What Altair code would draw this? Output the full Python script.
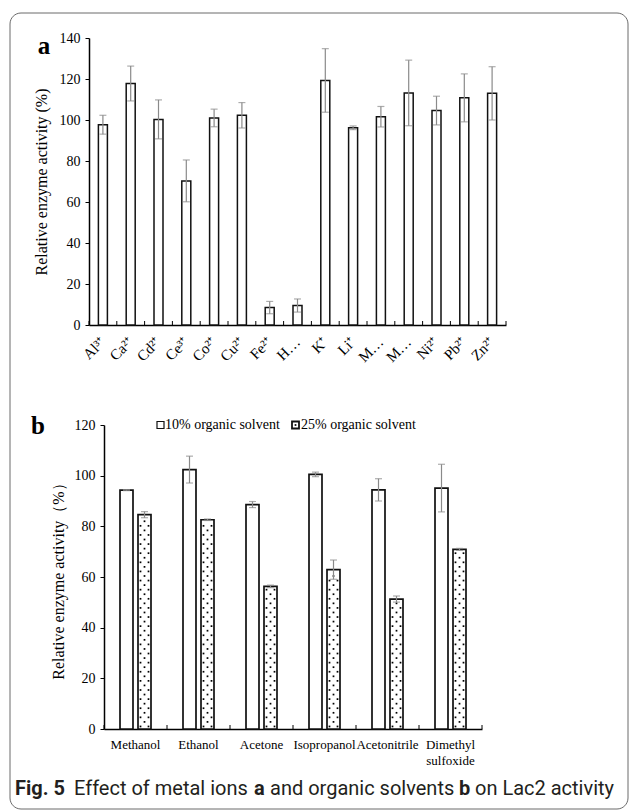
import altair as alt
import pandas as pd

# ---------------- data ----------------
metals = ["Al³⁺", "Ca²⁺", "Cd²⁺", "Ce³⁺", "Co²⁺", "Cu²⁺", "Fe²⁺", "H…", "K⁺",
          "Li⁺", "M…", "M…\u200b", "Ni²⁺", "Pb²⁺", "Zn²⁺"]
metal_activity = [97.7, 117.8, 100.3, 70.3, 101.0, 102.3, 8.5, 9.5, 119.3,
                  96.2, 101.6, 113.2, 104.6, 110.8, 113.0]
metal_err = [4.6, 8.5, 9.5, 10.2, 4.3, 6.2, 3.0, 3.2, 15.5,
             0.9, 5.0, 16.0, 7.0, 11.7, 13.0]

solvents = ["Methanol", "Ethanol", "Acetone", "Isopropanol", "Acetonitrile",
            "Dimethyl sulfoxide"]
series = ["10% organic solvent", "25% organic solvent"]
act10 = [94.3, 102.4, 88.6, 100.5, 94.4, 95.1]
err10 = [0.2, 5.3, 1.2, 0.9, 4.4, 9.4]
act25 = [84.6, 82.6, 56.3, 62.9, 51.3, 70.9]
err25 = [1.2, 0.3, 0.5, 3.8, 1.2, 0.4]

# ---------------- styling ----------------
SERIF = "Liberation Serif"
SANS = "Roboto"
ERR = "#8a8a8a"

W1, H1 = 417, 287      # top panel plot area
W2, H2 = 393, 304      # bottom panel plot area (x range starts at 15)

# ---------------- top panel ----------------
top_df = pd.DataFrame({"metal": metals, "act": metal_activity, "err": metal_err})
top_df["lo"] = top_df["act"] - top_df["err"]
top_df["hi"] = top_df["act"] + top_df["err"]


def xtop(**kw):
    return alt.X("metal:N", sort=metals,
                 scale=alt.Scale(paddingInner=0, paddingOuter=0),
                 axis=alt.Axis(title=None, labelAngle=-45, labelAlign="right",
                               labelBaseline="middle", labelPadding=14, ticks=False,
                               labelFont=SERIF, labelFontSize=15, labelColor="black",
                               domainColor="black", domainWidth=1.5),
                 **kw)


def ytop(field):
    return alt.Y(f"{field}:Q", scale=alt.Scale(domain=[0, 140], nice=False),
                 axis=alt.Axis(values=list(range(0, 141, 20)),
                               title="Relative enzyme activity (%)",
                               titleFont=SERIF, titleFontSize=16, titleFontWeight="normal",
                               titleColor="black", titleX=-48, titleBaseline="middle",
                               labelFont=SERIF, labelFontSize=14, labelColor="black",
                               labelPadding=5, tickSize=4, tickColor="black",
                               domainColor="black", domainWidth=1.5, grid=False))


base_top = alt.Chart(top_df)
bars_top = base_top.mark_bar(size=9, fill="white", stroke="#111", strokeWidth=1.5).encode(
    x=xtop(), y=ytop("act"))
err_top = base_top.mark_rule(color=ERR, strokeWidth=1.2).encode(
    x=xtop(), y=ytop("lo"), y2="hi")
cap_lo_top = base_top.mark_tick(color=ERR, size=7, thickness=1.2).encode(x=xtop(), y=ytop("lo"))
cap_hi_top = base_top.mark_tick(color=ERR, size=7, thickness=1.2).encode(x=xtop(), y=ytop("hi"))
ticks_top = alt.Chart(pd.DataFrame({"metal": metals})).mark_rule(color="black", strokeWidth=1).encode(
    x=xtop(bandPosition=0), y=alt.value(H1), y2=alt.value(H1 - 4))
one = pd.DataFrame({"k": [0]})
end_tick_top = alt.Chart(one).mark_rule(color="black", strokeWidth=1).encode(
    x=alt.value(W1), y=alt.value(H1), y2=alt.value(H1 - 4))
label_a = alt.Chart(one).mark_text(text="a", font=SERIF, fontSize=25, fontWeight="bold",
                                   align="center", baseline="middle", color="black").encode(
    x=alt.value(-45), y=alt.value(8))
border = alt.Chart(one).mark_rect(fill="white", fillOpacity=0, stroke="#6a6a6a", strokeWidth=1,
                                  cornerRadius=11).encode(
    x=alt.value(-79), x2=alt.value(539), y=alt.value(-25), y2=alt.value(771))

top = alt.layer(border, bars_top, err_top, cap_lo_top, cap_hi_top, ticks_top, end_tick_top,
                label_a).properties(width=W1, height=H1)

# ---------------- bottom panel ----------------
rows = []
for s, a1, e1, a2, e2 in zip(solvents, act10, err10, act25, err25):
    rows.append({"solvent": s, "series": series[0], "act": a1, "lo": a1 - e1, "hi": a1 + e1})
    rows.append({"solvent": s, "series": series[1], "act": a2, "lo": a2 - e2, "hi": a2 + e2})
bot_df = pd.DataFrame(rows)

# dotted fill pattern for the 25% bars (rows follow each bar's height)
dot_rows = []
step = 1.8
for s, a2 in zip(solvents, act25):
    k = 0
    while 1.0 + step * k < a2 - 0.9:
        dot_rows.append({"solvent": s, "dy": 1.0 + step * k, "row": k % 2})
        k += 1
dots_df = pd.DataFrame(dot_rows)


def xbot(**kw):
    return alt.X("solvent:N", sort=solvents,
                 scale=alt.Scale(range=[15, W2], paddingInner=0, paddingOuter=0),
                 axis=alt.Axis(title=None, labelAngle=0, ticks=False, labelPadding=9,
                               labelFont=SERIF, labelFontSize=13, labelColor="black",
                               labelLineHeight=16,
                               labelExpr="datum.label == 'Dimethyl sulfoxide' ? ['Dimethyl', 'sulfoxide'] : datum.label",
                               domainColor="black", domainWidth=1.5),
                 **kw)


def ybot(field):
    return alt.Y(f"{field}:Q", scale=alt.Scale(domain=[0, 120], nice=False),
                 axis=alt.Axis(values=list(range(0, 121, 20)),
                               title="Relative enzyme activity（%）",
                               titleFont=SERIF, titleFontSize=16, titleFontWeight="normal",
                               titleColor="black", titleX=-46, titleBaseline="middle",
                               labelFont=SERIF, labelFontSize=14, labelColor="black",
                               labelPadding=5, tickSize=4, tickColor="black", offset=-15,
                               domainColor="black", domainWidth=1.5, grid=False))


xoff = alt.XOffset("series:N", sort=series,
                   scale=alt.Scale(paddingInner=0.278, paddingOuter=0.889))

base_bot = alt.Chart(bot_df)
bars_bot = base_bot.mark_bar(fill="white", stroke="#111", strokeWidth=1.7).encode(
    x=xbot(), xOffset=xoff, y=ybot("act"))
err_bot = base_bot.mark_rule(color=ERR, strokeWidth=1.2).encode(
    x=xbot(), xOffset=xoff, y=ybot("lo"), y2="hi")
cap_lo_bot = base_bot.mark_tick(color=ERR, size=7, thickness=1.2).encode(
    x=xbot(), xOffset=xoff, y=ybot("lo"))
cap_hi_bot = base_bot.mark_tick(color=ERR, size=7, thickness=1.2).encode(
    x=xbot(), xOffset=xoff, y=ybot("hi"))

dots_base = alt.Chart(dots_df)
dots_a = dots_base.transform_filter("datum.row == 0").mark_square(
    size=3, color="black", opacity=1, xOffset=5).encode(x=xbot(), y=ybot("dy"))
dots_b = dots_base.transform_filter("datum.row == 0").mark_square(
    size=3, color="black", opacity=1, xOffset=13).encode(x=xbot(), y=ybot("dy"))
dots_c = dots_base.transform_filter("datum.row == 1").mark_square(
    size=3, color="black", opacity=1, xOffset=9).encode(x=xbot(), y=ybot("dy"))

ticks_bot = alt.Chart(pd.DataFrame({"solvent": solvents})).mark_rule(color="black", strokeWidth=1).encode(
    x=xbot(bandPosition=0), y=alt.value(H2), y2=alt.value(H2 - 4))
end_tick_bot = alt.Chart(one).mark_rule(color="black", strokeWidth=1).encode(
    x=alt.value(W2), y=alt.value(H2), y2=alt.value(H2 - 4))

label_b = alt.Chart(one).mark_text(text="b", font=SERIF, fontSize=25, fontWeight="bold",
                                   align="center", baseline="middle", color="black").encode(
    x=alt.value(-51), y=alt.value(1))

# legend
leg_sq1 = alt.Chart(one).mark_square(size=49, fill="white", stroke="#111", strokeWidth=1.2,
                                     opacity=1).encode(x=alt.value(71.5), y=alt.value(0))
leg_sq2 = alt.Chart(one).mark_square(size=49, fill="white", stroke="#111", strokeWidth=1.8,
                                     opacity=1).encode(x=alt.value(206.5), y=alt.value(0))
leg_dot = alt.Chart(one).mark_square(size=3, color="black", opacity=1).encode(
    x=alt.value(206.5), y=alt.value(0))
leg_t1 = alt.Chart(one).mark_text(text=series[0], font=SERIF, fontSize=14, align="left",
                                  baseline="middle", color="black").encode(
    x=alt.value(76), y=alt.value(0))
leg_t2 = alt.Chart(one).mark_text(text=series[1], font=SERIF, fontSize=14, align="left",
                                  baseline="middle", color="black").encode(
    x=alt.value(212), y=alt.value(0))

# caption (absolute positions relative to bottom panel origin)
CAP_Y = 363.5
cap_parts = [("Fig. 5", -74, "bold"), ("Effect of metal ions", -15, "normal"),
             ("a", 165, "bold"), ("and organic solvents", 181, "normal"),
             ("b", 370, "bold"), ("on Lac2 activity", 386, "normal")]
caption_layers = [
    alt.Chart(one).mark_text(text=t, font=SANS, fontSize=20, fontWeight=w, align="left",
                             baseline="middle", color="#231f20").encode(
        x=alt.value(xp), y=alt.value(CAP_Y))
    for t, xp, w in cap_parts
]

bottom = alt.layer(bars_bot, dots_a, dots_b, dots_c, err_bot, cap_lo_bot, cap_hi_bot,
                   ticks_bot, end_tick_bot, label_b, leg_sq1, leg_sq2, leg_dot, leg_t1, leg_t2,
                   *caption_layers).properties(width=W2, height=H2)

chart = alt.vconcat(top, bottom, spacing=100, bounds="flush").properties(
    padding={"left": 9, "top": 12, "right": 0, "bottom": 0},
    background="white",
).configure_view(stroke=None)

chart.save("out.html", embed_options={"renderer": "svg", "actions": False})
